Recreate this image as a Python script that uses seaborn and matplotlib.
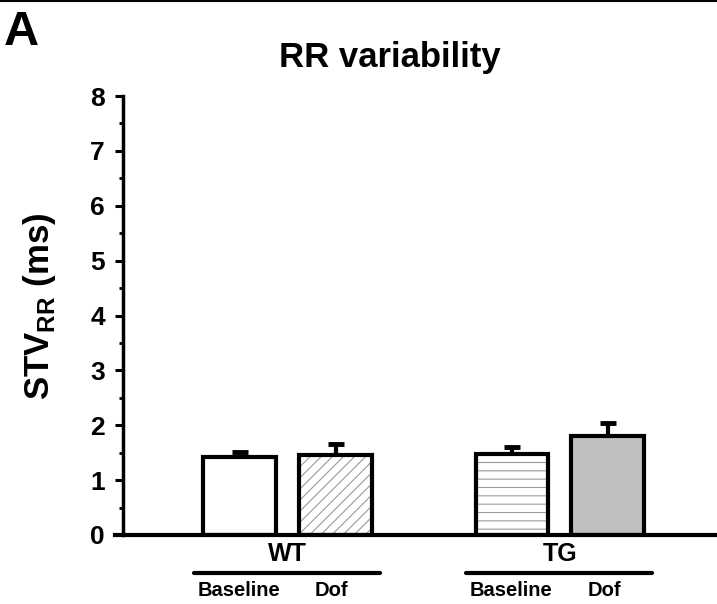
import matplotlib
matplotlib.use("Agg")
import matplotlib.pyplot as plt
import matplotlib.transforms as mtransforms
import numpy as np
import pandas as pd
import seaborn as sns

groups = ["WT", "WT", "TG", "TG"]
conditions = ["Baseline", "Dof", "Baseline", "Dof"]
stv_rr = [1.42, 1.45, 1.47, 1.80]
sem = [0.10, 0.20, 0.13, 0.25]
positions = [0.0, 1.0, 2.84, 3.84]

df = pd.DataFrame({"group": groups, "condition": conditions,
                   "pos": positions, "value": stv_rr, "sem": sem})

sns.set_theme(style="ticks")
plt.rcParams["font.family"] = ["Liberation Sans", "DejaVu Sans"]
plt.rcParams["font.weight"] = "bold"
plt.rcParams["mathtext.fontset"] = "custom"
plt.rcParams["mathtext.rm"] = "Liberation Sans:bold"
plt.rcParams["mathtext.bf"] = "Liberation Sans:bold"
for key in ["text.color", "axes.labelcolor", "xtick.color", "ytick.color", "axes.edgecolor"]:
    plt.rcParams[key] = "black"
plt.rcParams["hatch.color"] = "#999999"
plt.rcParams["hatch.linewidth"] = 0.8

fig = plt.figure(figsize=(7.17, 6.04), dpi=100)
ax = fig.add_axes([123 / 717, (604 - 535) / 604, 1 - 123 / 717, (535 - 96) / 604])

sns.barplot(data=df, x="pos", y="value", native_scale=True, errorbar=None,
            width=0.76, color="white", edgecolor="black", linewidth=3.0, ax=ax)

fills = ["white", "white", "white", "#c0c0c0"]
hatches = [None, "///", "--", None]
for bar, fc, h in zip(ax.patches, fills, hatches):
    bar.set_facecolor(fc)
    bar.set_zorder(2)
    if h:
        bar.set_hatch(h)
        bar._hatch_color = matplotlib.colors.to_rgba("#999999")

ax.errorbar(df["pos"], df["value"], yerr=[np.zeros(len(df)), df["sem"]],
            fmt="none", ecolor="black", elinewidth=3.0, capsize=6,
            capthick=3.5, zorder=1)

ax.set_xlim(-1.22, 4.98)
ax.set_ylim(0, 8)
ax.set_yticks(range(0, 9))
ax.set_yticks(np.arange(0, 8.01, 0.5), minor=True)
ax.set_xticks([])
ax.set_xlabel("")
ax.tick_params(axis="y", which="major", length=6, width=2.2, labelsize=19, pad=7)
ax.tick_params(axis="y", which="minor", length=3, width=2.0)
for lbl in ax.get_yticklabels():
    lbl.set_fontweight("bold")
for side in ["top", "right"]:
    ax.spines[side].set_visible(False)
ax.spines["left"].set_linewidth(2.5)
ax.spines["bottom"].set_linewidth(3.0)
ax.spines["bottom"].set_bounds(-1.30, 4.98)

ax.set_ylabel("")
fig.text(40 / 717, 1 - 306 / 604, r"STV$_{\mathrm{RR}}$ (ms)", rotation=90,
         ha="center", va="center", fontsize=25, fontweight="bold")
fig.text(390 / 717, 1 - 58 / 604, "RR variability", ha="center", va="center",
         fontsize=25, fontweight="bold")
fig.text(4 / 717, 1 - 45 / 604, "A", fontsize=35, fontweight="bold",
         va="baseline", ha="left")
fig.add_artist(plt.Line2D([0, 1], [0.999, 0.999], color="black", lw=1.5))

trans = mtransforms.blended_transform_factory(ax.transData, fig.transFigure)
for name, (a, b) in {"WT": (0.0, 1.0), "TG": (2.84, 3.84)}.items():
    mid = (a + b) / 2
    ax.text(mid, 1 - 554 / 604, name, transform=trans, ha="center", va="center",
            fontsize=18, fontweight="bold")
    ax.plot([a - 0.48, b + 0.46], [1 - 573 / 604] * 2, transform=trans,
            color="black", lw=3.0, clip_on=False)
    ax.text(a - 0.01, 1 - 591 / 604, "Baseline", transform=trans, ha="center",
            va="center", fontsize=14.5, fontweight="bold")
    ax.text(b - 0.04, 1 - 591 / 604, "Dof", transform=trans, ha="center",
            va="center", fontsize=14.5, fontweight="bold")

fig.savefig("out.png", dpi=100)
